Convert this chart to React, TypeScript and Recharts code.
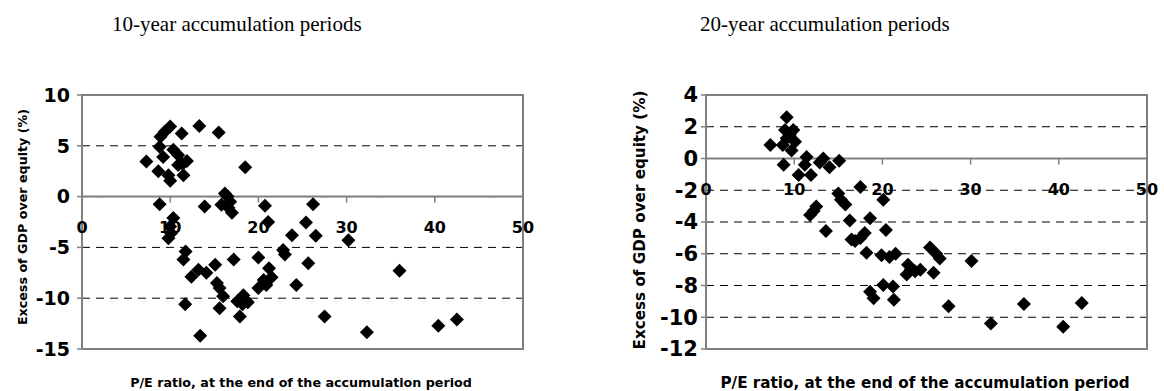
import { ScatterChart, Scatter, XAxis, YAxis, CartesianGrid, ReferenceLine, ReferenceArea, Label } from "recharts";

// 10-year accumulation periods: P/E at end of period vs excess of GDP over equity (%)
const pe10 = [
  7.3, 8.65, 8.8, 8.8, 9.2, 8.9, 9.4, 10.0, 9.8, 10.0, 10.35, 10.9, 10.9, 11.3, 11.5, 11.9, 11.4,
  13.3, 15.5, 18.5, 13.9, 16.2, 16.5, 15.8, 16.8, 17.0, 16.6, 10.35, 10.0, 9.8, 10.1, 11.75, 11.5,
  12.4, 13.2, 14.1, 15.1, 15.3, 15.6, 16.0, 15.6, 11.7, 13.4, 17.2, 18.3, 17.6, 18.8, 18.2, 17.9,
  20.0, 20.75, 21.1, 21.2, 21.5, 20.6, 20.0, 20.9, 22.8, 23.0, 23.8, 24.3, 25.4, 26.2, 26.5, 25.65,
  27.5, 30.2, 32.3, 36.0, 40.4, 42.5,
];
const excess10 = [
  3.45, 2.5, -0.75, 4.9, 3.9, 5.9, 6.4, 6.9, 2.1, 1.55, 4.6, 4.1, 3.1, 6.2, 2.1, 3.5, 3.2,
  6.95, 6.3, 2.9, -0.98, 0.3, 0.0, -0.8, -0.5, -1.6, -1.1, -2.1, -2.95, -4.1, -3.6, -5.4, -6.2,
  -7.9, -7.2, -7.5, -6.7, -8.5, -9.0, -9.8, -11.0, -10.6, -13.7, -6.2, -9.7, -10.3, -10.4, -10.6, -11.8,
  -6.0, -0.9, -2.5, -7.05, -7.95, -8.2, -9.0, -8.7, -5.25, -5.7, -3.8, -8.7, -2.55, -0.75, -3.85, -6.55,
  -11.8, -4.3, -13.35, -7.3, -12.7, -12.1,
];

// 20-year accumulation periods
const pe20 = [
  7.3, 8.8, 9.15, 8.96, 9.9, 9.15, 8.7, 10.1, 9.7, 9.5, 10.5, 11.4, 11.2, 11.9, 13.3, 12.9, 14.0,
  15.1, 12.5, 11.8, 12.2, 13.6, 15.0, 15.3, 15.8, 16.3, 16.5, 16.9, 17.5, 18.0, 17.5, 20.1, 18.6,
  20.4, 18.2, 19.9, 20.8, 21.5, 22.9, 22.75, 23.7, 24.3, 25.8, 25.4, 26.1, 26.5, 30.1, 20.1, 21.2,
  18.6, 19.0, 21.3, 27.5, 36.05, 32.3, 40.5, 42.6, 23.2,
];
const excess20 = [
  0.85, -0.4, 2.6, 1.8, 1.8, 1.27, 0.85, 1.06, 0.5, 1.5, -1.04, 0.1, -0.4, -1.04, 0.0, -0.25, -0.55,
  -0.14, -3.03, -3.56, -3.3, -4.57, -2.2, -2.6, -2.9, -3.9, -5.1, -5.2, -5.0, -4.7, -1.8, -2.6, -3.77,
  -4.5, -5.93, -6.1, -6.2, -6.0, -6.7, -7.3, -7.1, -7.0, -7.2, -5.6, -6.0, -6.3, -6.45, -7.97, -8.07,
  -8.4, -8.8, -8.9, -9.3, -9.17, -10.4, -10.6, -9.1, -7.0,
];

const xTicks = [0, 10, 20, 30, 40, 50];
const yTicks10 = [-15, -10, -5, 0, 5, 10];
const yTicks20 = [-12, -10, -8, -6, -4, -2, 0, 2, 4];

const data10 = pe10.map((pe, i) => ({ pe, excess: excess10[i] }));
const data20 = pe20.map((pe, i) => ({ pe, excess: excess20[i] }));

const TOP = 95;
const PLOT_H = 254;
const AXIS_GRAY = "#808080";
const SANS = "'DejaVu Sans', Arial, sans-serif";
const xLabel = "P/E ratio, at the end of the accumulation period";
const yLabel = "Excess of GDP over equity (%)";

const Diamond = (props: any) => {
  const { cx, cy } = props;
  const r = 7;
  return <polygon points={`${cx},${cy - r} ${cx + r},${cy} ${cx},${cy + r} ${cx - r},${cy}`} fill="#000" />;
};

// x axis crosses at y = 0, so ticks and labels sit on the zero line instead of the plot bottom
function makeXTick(yMin: number, yMax: number) {
  const zeroY = TOP + (PLOT_H * yMax) / (yMax - yMin);
  return (props: any) => {
    const { x, payload } = props;
    return (
      <g>
        <line x1={x} x2={x} y1={zeroY} y2={zeroY + 6} stroke={AXIS_GRAY} strokeWidth={1.5} />
        <text x={x} y={zeroY + 36} textAnchor="middle" fontFamily={SANS} fontWeight="bold" fontSize={16} fill="#000">
          {payload.value}
        </text>
      </g>
    );
  };
}

interface PanelProps {
  data: { pe: number; excess: number }[];
  yMin: number;
  yMax: number;
  yTicks: number[];
  width: number;
  axisWidth: number;
  rightMargin: number;
  tickFont: number;
  tickMargin: number;
  labelFont: number;
  yLabelX: number;
  yLabelY: number;
  xLabelX: number;
  xLabelY: number;
}

function Panel(p: PanelProps) {
  return (
    <ScatterChart width={p.width} height={391} margin={{ top: TOP, right: p.rightMargin, bottom: 0, left: 0 }}>
      <CartesianGrid horizontal vertical={false} stroke="#000" strokeDasharray="8 6" />
      <XAxis
        type="number"
        dataKey="pe"
        domain={[0, 50]}
        ticks={xTicks}
        height={42}
        axisLine={false}
        tickLine={false}
        tick={makeXTick(p.yMin, p.yMax)}
      >
        <Label
          content={() => (
            <text x={p.xLabelX} y={p.xLabelY} textAnchor="middle" dominantBaseline="central" fontFamily={SANS} fontWeight="bold" fontSize={p.labelFont} fill="#000">
              {xLabel}
            </text>
          )}
        />
      </XAxis>
      <YAxis
        type="number"
        dataKey="excess"
        domain={[p.yMin, p.yMax]}
        ticks={p.yTicks}
        width={p.axisWidth}
        axisLine={{ stroke: AXIS_GRAY, strokeWidth: 2 }}
        tickLine={{ stroke: AXIS_GRAY, strokeWidth: 1.5 }}
        tickSize={5}
        tickMargin={p.tickMargin}
        tick={{ fill: "#000", fontFamily: SANS, fontWeight: "bold", fontSize: p.tickFont }}
      >
        <Label
          content={() => (
            <text
              transform={`translate(${p.yLabelX}, ${p.yLabelY}) rotate(-90)`}
              textAnchor="middle"
              dominantBaseline="central"
              fontFamily={SANS}
              fontWeight="bold"
              fontSize={p.labelFont}
              fill="#000"
            >
              {yLabel}
            </text>
          )}
        />
      </YAxis>
      <ReferenceArea x1={0} x2={50} y1={p.yMin} y2={p.yMax} fill="none" stroke={AXIS_GRAY} strokeWidth={2} />
      <ReferenceLine y={0} stroke={AXIS_GRAY} strokeWidth={2} />
      <Scatter data={p.data} shape={Diamond} isAnimationActive={false} />
    </ScatterChart>
  );
}

export default function App() {
  const title: React.CSSProperties = {
    position: "absolute",
    top: 12,
    fontFamily: "'Liberation Serif', 'Times New Roman', serif",
    fontSize: 21,
    whiteSpace: "nowrap",
  };
  return (
    <div style={{ position: "absolute", left: 0, top: 0, width: 1164, height: 391, background: "#fff" }}>
      <div style={{ ...title, left: 112 }}>10-year accumulation periods</div>
      <div style={{ ...title, left: 700 }}>20-year accumulation periods</div>
      <div style={{ position: "absolute", left: 0, top: 0 }}>
        <Panel
          data={data10}
          yMin={-15}
          yMax={10}
          yTicks={yTicks10}
          width={560}
          axisWidth={82}
          rightMargin={37}
          tickFont={19}
          tickMargin={7}
          labelFont={12.7}
          yLabelX={22}
          yLabelY={217}
          xLabelX={301}
          xLabelY={382}
        />
      </div>
      <div style={{ position: "absolute", left: 560, top: 0 }}>
        <Panel
          data={data20}
          yMin={-12}
          yMax={4}
          yTicks={yTicks20}
          width={604}
          axisWidth={146}
          rightMargin={17}
          tickFont={21}
          tickMargin={3}
          labelFont={15.2}
          yLabelX={80}
          yLabelY={220}
          xLabelX={365}
          xLabelY={383}
        />
      </div>
    </div>
  );
}
